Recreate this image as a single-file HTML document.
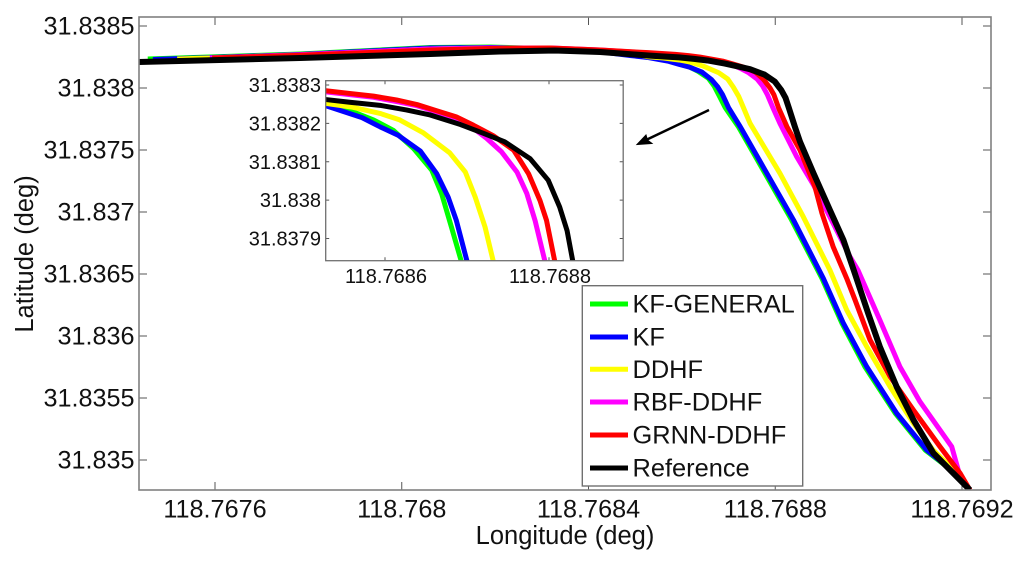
<!DOCTYPE html>
<html lang="en">
<head>
<meta charset="utf-8">
<title>Trajectory comparison chart</title>
<style>
html,body{margin:0;padding:0;background:#fff;width:100%;height:100%;overflow:hidden;}
svg{display:block;position:absolute;left:0;top:0;width:100%;height:100%;overflow:hidden;font-family:"Liberation Sans",Arial,sans-serif;fill:#111;}
text{stroke:none;}
script{display:none;}
</style>
</head>
<body>
<svg id="chart" xmlns="http://www.w3.org/2000/svg" viewBox="0 0 1024 563" preserveAspectRatio="none">
  <defs>
    <clipPath id="main-clip"><rect x="139" y="17" width="852" height="473"/></clipPath>
    <clipPath id="inset-clip"><rect x="325.7" y="80.7" width="297.5" height="180"/></clipPath>
  </defs>
  <rect x="0" y="0" width="1024" height="563" fill="#ffffff"/>
  <g id="main-ticks"></g>
  <g id="main-series" clip-path="url(#main-clip)"></g>
  <rect x="139" y="17" width="852" height="473" fill="none" stroke="#808080" stroke-width="1.6"/>
  <g id="main-labels" font-size="25.2"></g>
  <text x="565" y="544" font-size="25.5" text-anchor="middle">Longitude (deg)</text>
  <text transform="translate(33,254) rotate(-90)" font-size="25.5" text-anchor="middle">Latitude (deg)</text>

  <rect x="325.7" y="80.7" width="297.5" height="180" fill="#ffffff"/>
  <g id="inset-ticks"></g>
  <g id="inset-series" clip-path="url(#inset-clip)"></g>
  <rect x="325.7" y="80.7" width="297.5" height="180" fill="none" stroke="#707070" stroke-width="1.3"/>
  <g id="inset-labels" font-size="20"></g>

  <g>
    <line x1="709" y1="110" x2="646" y2="140" stroke="#000" stroke-width="2.5"/>
    <polygon points="637,144.5 646,135 647.5,140 652,143.5" fill="#000" stroke="#000" stroke-width="1"/>
  </g>

  <g>
    <rect x="582.3" y="285.7" width="220.4" height="200.3" fill="#ffffff" stroke="#707070" stroke-width="1.4"/>
    <g id="legend-items"></g>
  </g>
</svg>
<script>
// Series data: longitude and latitude in degrees.
var lonKfGeneral = [118.767456,118.767782,118.768061,118.768189,118.768296,118.768403,118.768489,118.768528,118.768561,118.768586,118.768610,118.768635,118.768657,118.768669,118.768681,118.768693,118.768721,118.768778,118.768835,118.768900,118.768943,118.768992,118.769057,118.769121,118.769196,118.769217];
var latKfGeneral = [31.838234,31.838274,31.838327,31.838331,31.838319,31.838306,31.838266,31.838252,31.838230,31.838209,31.838182,31.838134,31.838078,31.838017,31.837930,31.837841,31.837688,31.837312,31.836936,31.836465,31.836102,31.835752,31.835377,31.835081,31.834865,31.834758];
var lonKf = [118.767467,118.767782,118.768061,118.768189,118.768296,118.768403,118.768489,118.768528,118.768572,118.768594,118.768616,118.768643,118.768663,118.768677,118.768687,118.768700,118.768725,118.768782,118.768839,118.768903,118.768946,118.768996,118.769060,118.769124,118.769196,118.769217];
var latKf = [31.838230,31.838270,31.838323,31.838327,31.838315,31.838302,31.838262,31.838246,31.838215,31.838191,31.838169,31.838128,31.838069,31.838008,31.837947,31.837841,31.837688,31.837312,31.836936,31.836465,31.836102,31.835752,31.835377,31.835081,31.834865,31.834758];
var lonDdhf = [118.767519,118.767782,118.768061,118.768189,118.768296,118.768403,118.768510,118.768528,118.768561,118.768594,118.768618,118.768647,118.768679,118.768698,118.768710,118.768722,118.768732,118.768746,118.768810,118.768860,118.768917,118.768953,118.768996,118.769046,118.769096,118.769138,118.769196,118.769217];
var latDdhf = [31.838234,31.838266,31.838315,31.838323,31.838315,31.838302,31.838266,31.838252,31.838242,31.838226,31.838209,31.838175,31.838123,31.838073,31.838008,31.837930,31.837841,31.837715,31.837312,31.836962,31.836532,31.836210,31.835914,31.835591,31.835296,31.835081,31.834865,31.834758];
var lonRbfDdhf = [118.767589,118.767782,118.768061,118.768189,118.768318,118.768425,118.768528,118.768557,118.768586,118.768614,118.768639,118.768663,118.768687,118.768708,118.768724,118.768742,118.768761,118.768773,118.768783,118.768795,118.768810,118.768846,118.768882,118.768924,118.768960,118.768977,118.769024,118.769067,118.769110,118.769178,118.769196,118.769217];
var latRbfDdhf = [31.838242,31.838268,31.838315,31.838323,31.838323,31.838306,31.838282,31.838275,31.838268,31.838257,31.838246,31.838230,31.838213,31.838187,31.838161,31.838126,31.838073,31.838017,31.837947,31.837841,31.837715,31.837446,31.837218,31.836909,31.836640,31.836532,31.836129,31.835752,31.835470,31.835107,31.834865,31.834758];
var lonGrnnDdhf = [118.767594,118.767782,118.768061,118.768189,118.768318,118.768425,118.768528,118.768557,118.768586,118.768614,118.768639,118.768663,118.768687,118.768708,118.768732,118.768757,118.768775,118.768789,118.768797,118.768807,118.768825,118.768853,118.768885,118.768900,118.768924,118.768953,118.768971,118.769003,118.769046,118.769096,118.769153,118.769196,118.769217];
var latGrnnDdhf = [31.838242,31.838264,31.838306,31.838319,31.838323,31.838306,31.838285,31.838278,31.838271,31.838261,31.838249,31.838233,31.838217,31.838195,31.838168,31.838130,31.838069,31.837999,31.837947,31.837841,31.837688,31.837500,31.837204,31.836990,31.836720,31.836465,31.836290,31.835968,31.835672,31.835403,31.835107,31.834893,31.834758];
var lonReference = [118.767437,118.767782,118.768061,118.768210,118.768328,118.768425,118.768528,118.768557,118.768594,118.768626,118.768655,118.768692,118.768720,118.768746,118.768777,118.768799,118.768813,118.768822,118.768829,118.768842,118.768853,118.768882,118.768917,118.768946,118.768968,118.768999,118.769024,118.769060,118.769096,118.769139,118.769217];
var latReference = [31.838210,31.838242,31.838274,31.838294,31.838302,31.838290,31.838262,31.838255,31.838247,31.838235,31.838222,31.838197,31.838174,31.838152,31.838108,31.838052,31.837982,31.837921,31.837841,31.837688,31.837567,31.837312,31.837016,31.836774,31.836532,31.836183,31.835914,31.835591,31.835323,31.835054,31.834758];

// Series names and colours, in draw order.
var seriesNames = ["KF-GENERAL","KF","DDHF","RBF-DDHF","GRNN-DDHF","Reference"];
var seriesSlugs = ["kf-general","kf","ddhf","rbf-ddhf","grnn-ddhf","reference"];
var seriesColors = ["#00ff00","#0000ff","#ffff00","#ff00ff","#ff0000","#000000"];
var seriesLons = [lonKfGeneral,lonKf,lonDdhf,lonRbfDdhf,lonGrnnDdhf,lonReference];
var seriesLats = [latKfGeneral,latKf,latDdhf,latRbfDdhf,latGrnnDdhf,latReference];

// Tick values and printed labels.
var mainXTicks = [118.7676,118.7680,118.7684,118.7688,118.7692];
var mainXLabels = ["118.7676","118.768","118.7684","118.7688","118.7692"];
var mainYTicks = [31.8350,31.8355,31.8360,31.8365,31.8370,31.8375,31.8380,31.8385];
var mainYLabels = ["31.835","31.8355","31.836","31.8365","31.837","31.8375","31.838","31.8385"];
var insetXTicks = [118.7686,118.7688];
var insetXLabels = ["118.7686","118.7688"];
var insetYTicks = [31.8379,31.8380,31.8381,31.8382,31.8383];
var insetYLabels = ["31.8379","31.838","31.8381","31.8382","31.8383"];

var SVG_NS = "http://www.w3.org/2000/svg";

function linearScale(d0, d1, r0, r1) {
  return function (v) { return r0 + (v - d0) * (r1 - r0) / (d1 - d0); };
}
var xMain = linearScale(118.7676, 118.7692, 215, 962);
var yMain = linearScale(31.8350, 31.8385, 460, 26);
var xInset = linearScale(118.7686, 118.7688, 385, 549);
var yInset = linearScale(31.8379, 31.8383, 238.5, 85);

function makeNode(tag, attrs, parent) {
  var el = document.createElementNS(SVG_NS, tag);
  for (var k in attrs) { el.setAttribute(k, attrs[k]); }
  parent.appendChild(el);
  return el;
}

function drawSeries(groupId, xFn, yFn, widths, prefix) {
  var group = document.getElementById(groupId);
  for (var s = 0; s < seriesNames.length; s++) {
    var pts = [];
    for (var i = 0; i < seriesLons[s].length; i++) {
      pts.push(xFn(seriesLons[s][i]).toFixed(2) + "," + yFn(seriesLats[s][i]).toFixed(2));
    }
    var line = makeNode("polyline", {
      points: pts.join(" "),
      fill: "none",
      stroke: seriesColors[s],
      "stroke-width": widths[s],
      "stroke-linejoin": "round"
    }, group);
    
    
  }
}

function drawAxis(cfg) {
  var tg = document.getElementById(cfg.tickGroup);
  var lg = document.getElementById(cfg.labelGroup);
  cfg.xTicks.forEach(function (v, i) {
    var x = cfg.xFn(v);
    var t1 = makeNode("line", {x1: x, x2: x, y1: cfg.bottom, y2: cfg.bottom - cfg.len, stroke: "#555", "stroke-width": 1}, tg);
    
    
    var t2 = makeNode("line", {x1: x, x2: x, y1: cfg.top, y2: cfg.top + cfg.len, stroke: "#555", "stroke-width": 1}, tg);
    
    
    var lab = makeNode("text", {x: x + cfg.xLabelDx, y: cfg.xLabelY, "text-anchor": "middle"}, lg);
    lab.textContent = cfg.xLabels[i];
    
    
  });
  cfg.yTicks.forEach(function (v, i) {
    var y = cfg.yFn(v);
    var t1 = makeNode("line", {x1: cfg.left, x2: cfg.left + cfg.len, y1: y, y2: y, stroke: "#555", "stroke-width": 1}, tg);
    
    
    var t2 = makeNode("line", {x1: cfg.right, x2: cfg.right - cfg.len, y1: y, y2: y, stroke: "#555", "stroke-width": 1}, tg);
    
    
    var lab = makeNode("text", {x: cfg.yLabelX, y: y + cfg.yLabelDy, "text-anchor": "end"}, lg);
    lab.textContent = cfg.yLabels[i];
    
    
  });
}

drawAxis({tickGroup: "main-ticks", labelGroup: "main-labels", prefix: "main", xFn: xMain, yFn: yMain,
  xTicks: mainXTicks, xLabels: mainXLabels, yTicks: mainYTicks, yLabels: mainYLabels,
  left: 139, right: 991, top: 17, bottom: 490, len: 8, xLabelDx: 0, xLabelY: 517.5, yLabelX: 134.5, yLabelDy: 8.5});
drawSeries("main-series", xMain, yMain, [5, 5, 5, 5, 5, 6], "main");

drawAxis({tickGroup: "inset-ticks", labelGroup: "inset-labels", prefix: "inset", xFn: xInset, yFn: yInset,
  xTicks: insetXTicks, xLabels: insetXLabels, yTicks: insetYTicks, yLabels: insetYLabels,
  left: 325.7, right: 623.2, top: 80.7, bottom: 260.7, len: 3.5, xLabelDx: 1, xLabelY: 283, yLabelX: 321, yLabelDy: 7});
drawSeries("inset-series", xInset, yInset, [5, 5, 5, 5, 5, 5], "inset");

var legendGroup = document.getElementById("legend-items");
var legendRowY = [304, 337, 369.3, 402, 435, 468];
seriesNames.forEach(function (name, i) {
  var row = makeNode("g", {}, legendGroup);
  
  
  var swatch = makeNode("line", {x1: 590, x2: 628, y1: legendRowY[i], y2: legendRowY[i], stroke: seriesColors[i], "stroke-width": 5}, row);
  
  
  var label = makeNode("text", {x: 632.5, y: legendRowY[i] + 8.5, "font-size": 25.4}, row);
  label.textContent = name;
  
  
});
</script>
</body>
</html>
